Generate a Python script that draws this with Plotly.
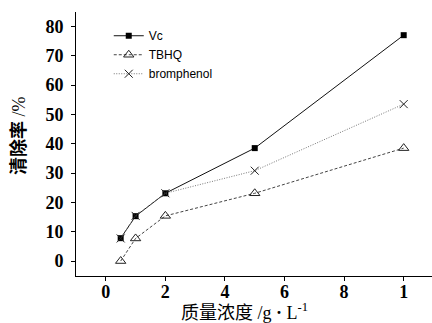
import plotly.graph_objects as go

conc = [0.5, 1, 2, 5, 10]
vc = [7.8, 15.3, 23.1, 38.5, 77.0]
tbhq = [0.0, 7.7, 15.4, 23.1, 38.5]
bromphenol = [7.7, 15.4, 23.1, 30.8, 53.5]

x_tickvals = [0, 2, 4, 6, 8, 10]
x_ticktext = ["0", "2", "4", "6", "8", "1"]
x_minor = [1, 3, 5, 7, 9]
y_tickvals = [0, 10, 20, 30, 40, 50, 60, 70, 80]
y_ticktext = [str(v) for v in y_tickvals]
y_minor = [-5, 5, 15, 25, 35, 45, 55, 65, 75]

serif = "Liberation Serif, Noto Sans CJK SC"
sans = "Liberation Sans, Arial, sans-serif"
xr = [-1, 10.95]
yr = [-5.1, 84.9]

fig = go.Figure()
fig.add_trace(go.Scatter(x=conc, y=vc, name="Vc", mode="lines+markers",
                         line=dict(color="#111111", width=1),
                         marker=dict(symbol="square", size=6, color="#000000")))
fig.add_trace(go.Scatter(x=conc, y=tbhq, name="TBHQ", mode="lines+markers",
                         line=dict(color="#444444", width=1, dash="3px,2px"),
                         marker=dict(symbol="triangle-up-open", size=9, color="#222222",
                                     line=dict(width=1))))
fig.add_trace(go.Scatter(x=conc, y=bromphenol, name="bromphenol", mode="lines+markers",
                         line=dict(color="#777777", width=1, dash="1px,1.5px"),
                         marker=dict(symbol="x-thin-open", size=8, color="#222222",
                                     line=dict(width=1, color="#222222"))))

fig.update_layout(
    width=432, height=323,
    margin=dict(l=76, r=0, t=12, b=47, pad=0, autoexpand=False),
    paper_bgcolor="white", plot_bgcolor="white",
    showlegend=True,
    legend=dict(x=0.092, y=0.965, xanchor="left", yanchor="top",
                font=dict(family=sans, size=12, color="#000"),
                bgcolor="rgba(0,0,0,0)", tracegroupgap=0, itemwidth=30),
    xaxis=dict(range=xr, tickmode="array", tickvals=x_tickvals,
               ticktext=["<b>%s</b>" % t for t in x_ticktext],
               automargin=False, ticklabelstandoff=-5,
               showline=True, linecolor="black", linewidth=1, mirror=False,
               showgrid=False, zeroline=False,
               ticks="outside", ticklen=4, tickwidth=1, tickcolor="black",
               tickfont=dict(family=serif, size=18, color="black")),
    yaxis=dict(range=yr, tickmode="array", tickvals=y_tickvals,
               ticktext=["<b>%s</b>" % t for t in y_ticktext],
               automargin=False, ticklabelstandoff=4,
               showline=True, linecolor="black", linewidth=1, mirror=False,
               showgrid=False, zeroline=False,
               ticks="outside", ticklen=4, tickwidth=1, tickcolor="black",
               tickfont=dict(family=serif, size=18, color="black")),
    xaxis2=dict(range=xr, overlaying="x", side="bottom", anchor="y",
                tickmode="array", tickvals=x_minor, showticklabels=False,
                ticks="outside", ticklen=2, tickwidth=1, tickcolor="black",
                showline=False, showgrid=False, zeroline=False, automargin=False),
    yaxis2=dict(range=yr, overlaying="y", side="left", anchor="x",
                tickmode="array", tickvals=y_minor, showticklabels=False,
                ticks="outside", ticklen=2, tickwidth=1, tickcolor="black",
                showline=False, showgrid=False, zeroline=False, automargin=False),
    annotations=[
        dict(text="<b>清除率</b> /%", xref="paper", yref="paper",
             x=(18 - 76) / 356, y=(277 - 137) / 264, textangle=-90, showarrow=False,
             xanchor="center", yanchor="middle",
             font=dict(family=serif, size=18, color="#000")),
        dict(text="质量浓度 /g <b>·</b> L<sup>-1</sup>", xref="paper", yref="paper",
             x=(244 - 76) / 356, y=-(311 - 276) / 264, showarrow=False,
             xanchor="center", yanchor="middle",
             font=dict(family=serif, size=18, color="#000")),
    ],
)

fig.write_html("out.html", post_script="document.body.style.margin='0';",
               config={"displayModeBar": False})
